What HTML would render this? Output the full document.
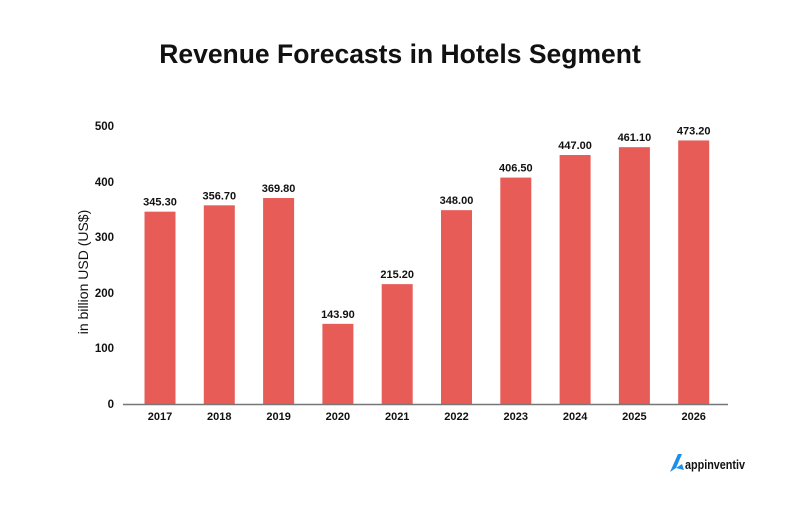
<!DOCTYPE html>
<html><head><meta charset="utf-8"><style>
body{margin:0;background:#fff;}
svg text{font-family:"Liberation Sans",sans-serif;fill:#111;}
</style></head><body>
<svg width="801" height="501" viewBox="0 0 801 501" xmlns="http://www.w3.org/2000/svg">
<rect width="801" height="501" fill="#fff"/>
<text x="400" y="63" text-anchor="middle" font-size="26.5" font-weight="bold">Revenue Forecasts in Hotels Segment</text>
<g font-size="11.5" font-weight="bold" text-anchor="end">
<text x="114" y="130">500</text><text x="114" y="186">400</text><text x="114" y="241">300</text>
<text x="114" y="297">200</text><text x="114" y="352">100</text><text x="114" y="408">0</text>
</g>
<text transform="translate(88,272) rotate(-90)" text-anchor="middle" font-size="14">in billion USD (US$)</text>
<g fill="#e85c58" id="bars"></g>
<line x1="123" y1="404.5" x2="728" y2="404.5" stroke="#777" stroke-width="1.5"/>
<g font-size="11" font-weight="bold" text-anchor="middle" id="lbl"></g>
<g transform="translate(668,452)">
<path d="M2 20 L10 2 L14 2 L8 16 Z M8 16 L14 12 L16 18 Z" fill="#1e8ee8"/>
<text x="17" y="17" font-size="12.5" font-weight="bold" textLength="60" lengthAdjust="spacingAndGlyphs">appinventiv</text>
</g>
<script>
var d=[["2017",345.3],["2018",356.7],["2019",369.8],["2020",143.9],["2021",215.2],["2022",348.0],["2023",406.5],["2024",447.0],["2025",461.1],["2026",473.2]];
var b=document.getElementById('bars'),l=document.getElementById('lbl'),ns="http://www.w3.org/2000/svg";
d.forEach(function(e,i){var cx=160+i*59.3,h=e[1]*0.557,y=404-h;
var r=document.createElementNS(ns,'rect');r.setAttribute('x',cx-15.5);r.setAttribute('y',y);r.setAttribute('width',31);r.setAttribute('height',h);b.appendChild(r);
var t=document.createElementNS(ns,'text');t.setAttribute('x',cx);t.setAttribute('y',y-6);t.textContent=e[1].toFixed(2);l.appendChild(t);
var t2=document.createElementNS(ns,'text');t2.setAttribute('x',cx);t2.setAttribute('y',420);t2.textContent=e[0];l.appendChild(t2);});
</script>
</svg>
</body></html>
